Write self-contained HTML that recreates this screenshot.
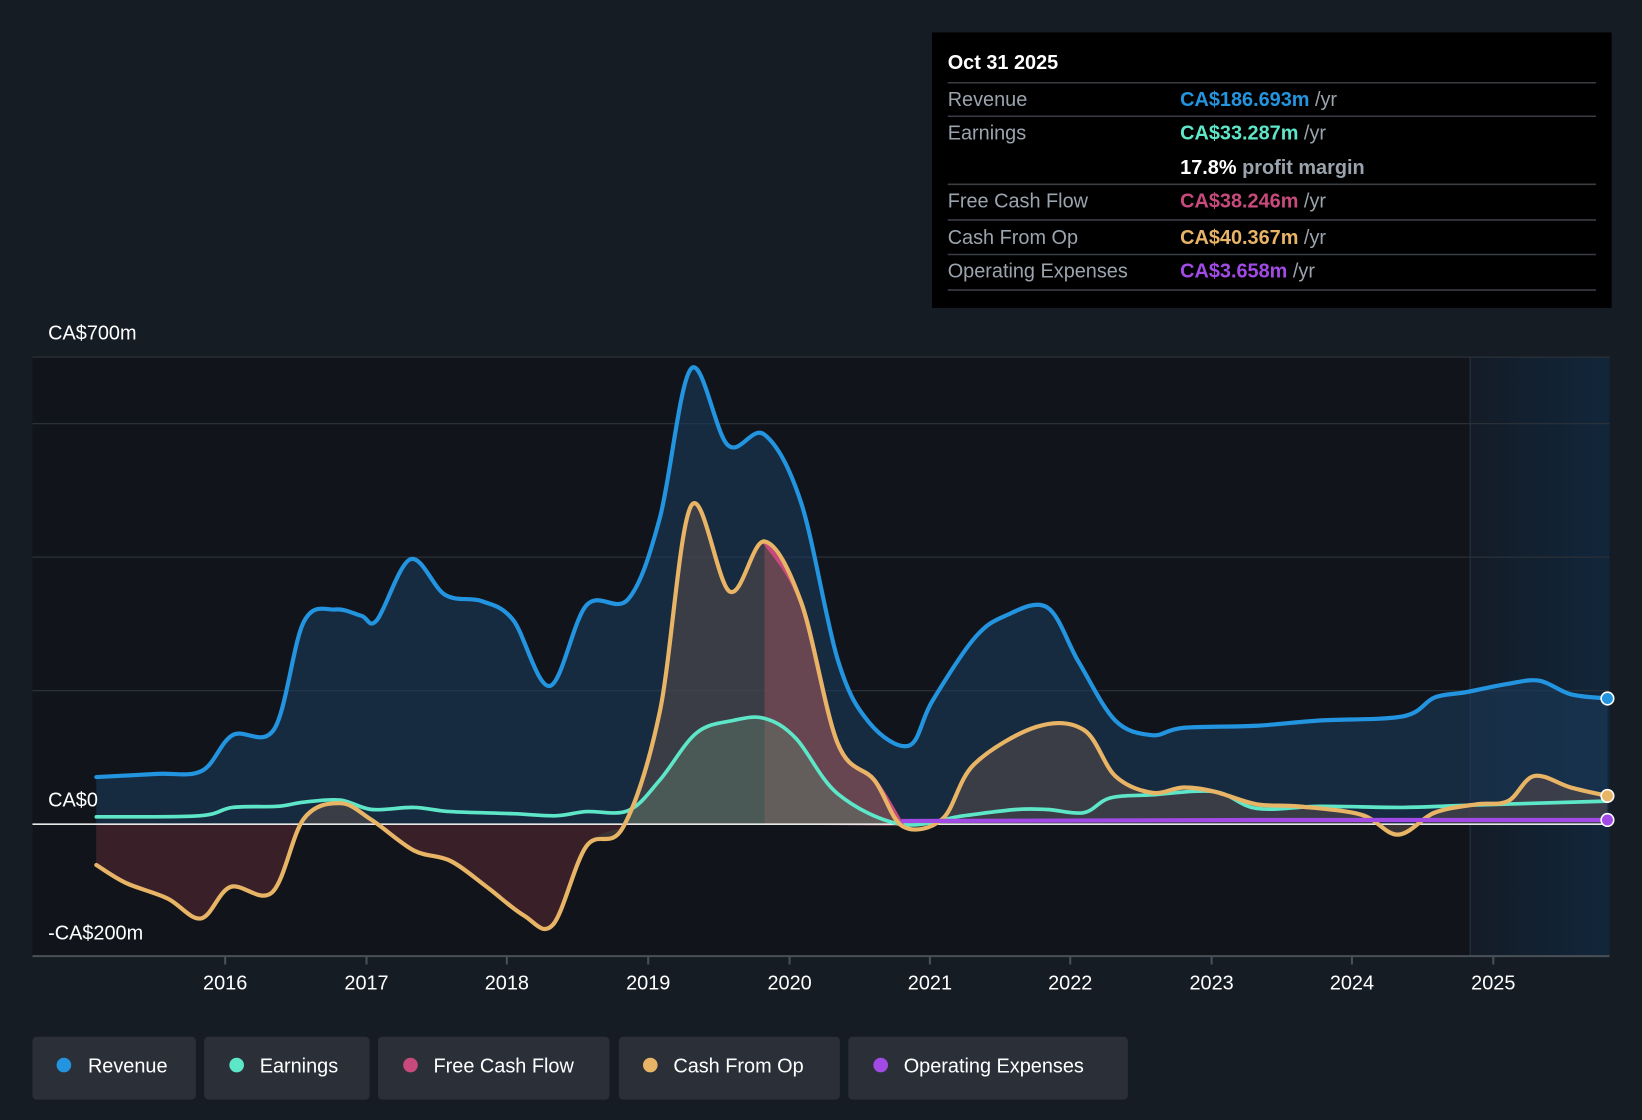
<!DOCTYPE html>
<html><head><meta charset="utf-8"><style>
html,body{margin:0;padding:0;background:#161c24;}
svg{display:block;font-family:"Liberation Sans",sans-serif;}
</style></head><body>
<svg id="c" width="1642" height="1120" viewBox="0 0 1568 1069.5" preserveAspectRatio="none">
<defs>
<linearGradient id="fc" x1="0" x2="1" y1="0" y2="0"><stop offset="0" stop-color="#131c27"/><stop offset="1" stop-color="#12263b"/></linearGradient>
</defs>
<rect width="1568" height="1070" fill="#161c24"/>
<rect x="31" y="341" width="1506" height="572" fill="#11151b"/>
<rect x="1404" y="341" width="133" height="572" fill="url(#fc)"/>
<line x1="1404" y1="341" x2="1404" y2="913" stroke="#1f2c3a" stroke-width="1.5"/>
<g stroke="#2a3038" stroke-width="1.2">
<line x1="31" y1="341" x2="1537" y2="341"/><line x1="31" y1="404.5" x2="1537" y2="404.5"/>
<line x1="31" y1="532" x2="1537" y2="532"/><line x1="31" y1="659.5" x2="1537" y2="659.5"/>
</g>
<path id="revA" fill="#1b3a5a" fill-opacity="0.6"/>
<path id="cfoA" fill="#5a4a4a" fill-opacity="0.55"/>
<path id="negA" fill="#3a1d26" fill-opacity="0.9"/>
<path id="fcfA" fill="#7a4a55" fill-opacity="0.7"/>
<path id="earA" fill="#5f7a6a" fill-opacity="0.45"/>
<line x1="31" y1="787" x2="1537" y2="787" stroke="#e8e8e8" stroke-width="1.5"/>
<line x1="31" y1="913" x2="1537" y2="913" stroke="#4a5058" stroke-width="2"/>
<g fill="none" stroke-width="4" stroke-linejoin="round" stroke-linecap="round">
<path id="revL" stroke="#2394df"/>
<path id="earL" stroke="#5ee6c8" stroke-width="3.5"/>
<path id="fcfL" stroke="#c84a7c"/>
<path id="cfoL" stroke="#e8b465"/>
<path d="M862,784 L1200,783 L1535,783" stroke="#a24ae6"/>
</g>
<circle cx="1535" cy="667" r="6" fill="#2394df" stroke="#fff" stroke-width="1.5"/>
<circle cx="1535" cy="760" r="6" fill="#e8b465" stroke="#fff" stroke-width="1.5"/>
<circle cx="1535" cy="783" r="6" fill="#a24ae6" stroke="#fff" stroke-width="1.5"/>
<g fill="#fff" font-size="19">
<text x="46" y="324">CA$700m</text>
<text x="46" y="770">CA$0</text>
<text x="46" y="897">-CA$200m</text>
</g>
<g stroke="#4a5058" stroke-width="2">
<line x1="215" y1="913" x2="215" y2="921"/><line x1="350" y1="913" x2="350" y2="921"/><line x1="484" y1="913" x2="484" y2="921"/><line x1="619" y1="913" x2="619" y2="921"/><line x1="754" y1="913" x2="754" y2="921"/><line x1="888" y1="913" x2="888" y2="921"/><line x1="1022" y1="913" x2="1022" y2="921"/><line x1="1157" y1="913" x2="1157" y2="921"/><line x1="1291" y1="913" x2="1291" y2="921"/><line x1="1426" y1="913" x2="1426" y2="921"/>
</g>
<g fill="#fff" font-size="19" text-anchor="middle">
<text x="215" y="945">2016</text><text x="350" y="945">2017</text><text x="484" y="945">2018</text><text x="619" y="945">2019</text><text x="754" y="945">2020</text><text x="888" y="945">2021</text><text x="1022" y="945">2022</text><text x="1157" y="945">2023</text><text x="1291" y="945">2024</text><text x="1426" y="945">2025</text>
</g>
<rect x="890" y="31" width="649" height="263" fill="#000"/>
<g stroke="#3a3d42" stroke-width="1.5">
<line x1="905" y1="79" x2="1524" y2="79"/><line x1="905" y1="111" x2="1524" y2="111"/><line x1="905" y1="176" x2="1524" y2="176"/><line x1="905" y1="210" x2="1524" y2="210"/><line x1="905" y1="243" x2="1524" y2="243"/><line x1="905" y1="277" x2="1524" y2="277"/>
</g>
<g font-size="19">
<text x="905" y="66" fill="#fff" font-weight="bold">Oct 31 2025</text>
<g fill="#9ba3ad">
<text x="905" y="101">Revenue</text><text x="905" y="133">Earnings</text><text x="905" y="198">Free Cash Flow</text><text x="905" y="233">Cash From Op</text><text x="905" y="265">Operating Expenses</text>
</g>
<text x="1127" y="101" font-weight="bold" fill="#2394df">CA$186.693m <tspan fill="#9ba3ad" font-weight="normal">/yr</tspan></text>
<text x="1127" y="133" font-weight="bold" fill="#5ee6c8">CA$33.287m <tspan fill="#9ba3ad" font-weight="normal">/yr</tspan></text>
<text x="1127" y="166" font-weight="bold" fill="#fff">17.8% <tspan fill="#9ba3ad">profit margin</tspan></text>
<text x="1127" y="198" font-weight="bold" fill="#c84a7c">CA$38.246m <tspan fill="#9ba3ad" font-weight="normal">/yr</tspan></text>
<text x="1127" y="233" font-weight="bold" fill="#e8b465">CA$40.367m <tspan fill="#9ba3ad" font-weight="normal">/yr</tspan></text>
<text x="1127" y="265" font-weight="bold" fill="#a24ae6">CA$3.658m <tspan fill="#9ba3ad" font-weight="normal">/yr</tspan></text>
</g>
<g fill="#2a2f38">
<rect x="31" y="990" width="156" height="60" rx="4"/><rect x="195" y="990" width="158" height="60" rx="4"/><rect x="361" y="990" width="221" height="60" rx="4"/><rect x="591" y="990" width="211" height="60" rx="4"/><rect x="810" y="990" width="267" height="60" rx="4"/>
</g>
<circle cx="61" cy="1017" r="7" fill="#2394df"/><circle cx="226" cy="1017" r="7" fill="#5ee6c8"/><circle cx="392" cy="1017" r="7" fill="#c84a7c"/><circle cx="621" cy="1017" r="7" fill="#e8b465"/><circle cx="841" cy="1017" r="7" fill="#a24ae6"/>
<g fill="#fff" font-size="19">
<text x="84" y="1024">Revenue</text><text x="248" y="1024">Earnings</text><text x="414" y="1024">Free Cash Flow</text><text x="643" y="1024">Cash From Op</text><text x="863" y="1024">Operating Expenses</text>
</g>
</svg>
<script>
function sm(p,start){var d=start?"":"M"+p[0][0]+","+p[0][1];if(start)d=" L"+p[0][0]+","+p[0][1];
for(var i=0;i<p.length-1;i++){var a=p[i-1]||p[i],b=p[i],c=p[i+1],e=p[i+2]||c;var t=6;
var c1x=b[0]+(c[0]-a[0])/t,c1y=b[1]+(c[1]-a[1])/t,c2x=c[0]-(e[0]-b[0])/t,c2y=c[1]-(e[1]-b[1])/t;
d+=" C"+c1x.toFixed(1)+","+c1y.toFixed(1)+" "+c2x.toFixed(1)+","+c2y.toFixed(1)+" "+c[0]+","+c[1];}return d;}
var rev=[[92,742],[150,739],[193,736],[222,702],[262,696],[290,594],[320,582],[345,588],[360,592],[392,534],[425,568],[460,574],[490,592],[525,655],[560,578],[600,572],[630,495],[660,352],[695,425],[730,415],[765,480],[800,630],[830,690],[868,712],[890,670],[930,610],[960,588],[1000,580],[1030,632],[1065,688],[1100,702],[1130,695],[1200,693],[1260,688],[1340,684],[1370,666],[1400,661],[1440,653],[1470,650],[1500,663],[1535,667]];
var ear=[[92,780],[190,779],[222,771],[265,770],[290,766],[325,764],[355,773],[395,771],[430,775],[490,777],[530,779],[560,775],[600,774],[630,745],[665,700],[700,688],[730,686],[760,705],[800,758],[860,787],[920,779],[970,773],[1000,773],[1035,776],[1060,762],[1100,759],[1160,756],[1200,772],[1260,770],[1340,771],[1400,769],[1535,765]];
var cfo=[[92,826],[120,843],[160,858],[192,877],[220,847],[260,852],[290,782],[325,767],[355,783],[395,812],[430,822],[465,847],[500,874],[528,883],[560,808],[595,790],[630,680],[660,483],[697,565],[730,517],[765,575],[800,710],[835,745],[862,789],[900,782],[930,730],[990,694],[1035,697],[1065,741],[1100,757],[1130,752],[1160,756],[1200,768],[1240,770],[1300,778],[1335,797],[1370,776],[1410,768],[1440,765],[1465,741],[1500,752],[1535,760]];
function g(id){return document.getElementById(id);}
g("revL").setAttribute("d",sm(rev));
g("revA").setAttribute("d",sm(rev)+" L1535,787 L92,787 Z");
g("earL").setAttribute("d",sm(ear));
g("cfoL").setAttribute("d",sm(cfo));
g("cfoA").setAttribute("d",sm(cfo)+" L1535,787 L92,787 Z");
var fcf=cfo.slice(19,24);
g("fcfL").setAttribute("d",sm(fcf));
g("fcfA").setAttribute("d","M730,787"+sm(fcf,1)+" Z");
var n1=cfo.slice(0,7),n2=cfo.slice(8,16);
g("negA").setAttribute("d","M92,787"+sm(n1,1)+" L288,787 Z M355,787"+sm(n2,1)+" L600,787 Z");
g("earA").setAttribute("d","M600,787"+sm(ear.slice(12,20),1)+" Z");
</script>
</body></html>
